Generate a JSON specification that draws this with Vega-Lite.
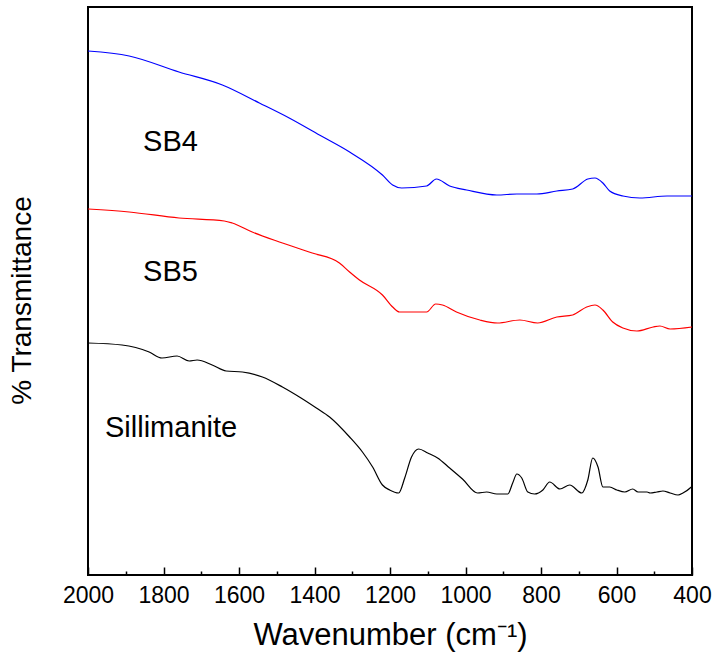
{
  "$schema": "https://vega.github.io/schema/vega-lite/v6.json",
  "width": 604,
  "height": 568,
  "autosize": {"type": "none"},
  "padding": {"left": 88, "top": 7, "right": 20, "bottom": 91},
  "config": {
    "view": {"stroke": "black", "strokeWidth": 2},
    "font": "Liberation Sans"
  },
  "datasets": {
    "spectra": [
      {"sample": "SB4", "wn": 2000, "t": 524},
      {"sample": "SB4", "wn": 1891, "t": 519},
      {"sample": "SB4", "wn": 1759, "t": 503},
      {"sample": "SB4", "wn": 1644, "t": 490},
      {"sample": "SB4", "wn": 1546, "t": 472},
      {"sample": "SB4", "wn": 1467, "t": 457},
      {"sample": "SB4", "wn": 1387, "t": 440},
      {"sample": "SB4", "wn": 1307, "t": 423},
      {"sample": "SB4", "wn": 1220, "t": 400},
      {"sample": "SB4", "wn": 1193, "t": 390},
      {"sample": "SB4", "wn": 1169, "t": 387},
      {"sample": "SB4", "wn": 1103, "t": 389},
      {"sample": "SB4", "wn": 1077, "t": 396},
      {"sample": "SB4", "wn": 1042, "t": 389},
      {"sample": "SB4", "wn": 997, "t": 385},
      {"sample": "SB4", "wn": 917, "t": 380},
      {"sample": "SB4", "wn": 864, "t": 381},
      {"sample": "SB4", "wn": 811, "t": 381},
      {"sample": "SB4", "wn": 758, "t": 384},
      {"sample": "SB4", "wn": 716, "t": 386},
      {"sample": "SB4", "wn": 676, "t": 396},
      {"sample": "SB4", "wn": 657, "t": 397},
      {"sample": "SB4", "wn": 636, "t": 392},
      {"sample": "SB4", "wn": 618, "t": 384},
      {"sample": "SB4", "wn": 583, "t": 379},
      {"sample": "SB4", "wn": 538, "t": 377},
      {"sample": "SB4", "wn": 466, "t": 379},
      {"sample": "SB4", "wn": 400, "t": 379},
      {"sample": "SB5", "wn": 2000, "t": 366},
      {"sample": "SB5", "wn": 1891, "t": 363},
      {"sample": "SB5", "wn": 1759, "t": 357},
      {"sample": "SB5", "wn": 1639, "t": 354},
      {"sample": "SB5", "wn": 1618, "t": 352},
      {"sample": "SB5", "wn": 1565, "t": 343},
      {"sample": "SB5", "wn": 1493, "t": 333},
      {"sample": "SB5", "wn": 1406, "t": 322},
      {"sample": "SB5", "wn": 1334, "t": 312},
      {"sample": "SB5", "wn": 1307, "t": 303},
      {"sample": "SB5", "wn": 1281, "t": 295},
      {"sample": "SB5", "wn": 1220, "t": 280},
      {"sample": "SB5", "wn": 1193, "t": 268},
      {"sample": "SB5", "wn": 1175, "t": 263},
      {"sample": "SB5", "wn": 1103, "t": 263},
      {"sample": "SB5", "wn": 1079, "t": 271},
      {"sample": "SB5", "wn": 1061, "t": 270},
      {"sample": "SB5", "wn": 1024, "t": 263},
      {"sample": "SB5", "wn": 962, "t": 255},
      {"sample": "SB5", "wn": 915, "t": 252},
      {"sample": "SB5", "wn": 856, "t": 255},
      {"sample": "SB5", "wn": 809, "t": 252},
      {"sample": "SB5", "wn": 758, "t": 258},
      {"sample": "SB5", "wn": 716, "t": 260},
      {"sample": "SB5", "wn": 679, "t": 268},
      {"sample": "SB5", "wn": 657, "t": 270},
      {"sample": "SB5", "wn": 636, "t": 265},
      {"sample": "SB5", "wn": 610, "t": 253},
      {"sample": "SB5", "wn": 583, "t": 247},
      {"sample": "SB5", "wn": 546, "t": 244},
      {"sample": "SB5", "wn": 503, "t": 248},
      {"sample": "SB5", "wn": 485, "t": 249},
      {"sample": "SB5", "wn": 458, "t": 246},
      {"sample": "SB5", "wn": 400, "t": 248},
      {"sample": "Sillimanite", "wn": 2000, "t": 232},
      {"sample": "Sillimanite", "wn": 1910, "t": 230},
      {"sample": "Sillimanite", "wn": 1838, "t": 223},
      {"sample": "Sillimanite", "wn": 1804, "t": 217},
      {"sample": "Sillimanite", "wn": 1764, "t": 219},
      {"sample": "Sillimanite", "wn": 1732, "t": 214},
      {"sample": "Sillimanite", "wn": 1711, "t": 215},
      {"sample": "Sillimanite", "wn": 1671, "t": 210},
      {"sample": "Sillimanite", "wn": 1634, "t": 204},
      {"sample": "Sillimanite", "wn": 1591, "t": 203},
      {"sample": "Sillimanite", "wn": 1538, "t": 198},
      {"sample": "Sillimanite", "wn": 1485, "t": 188},
      {"sample": "Sillimanite", "wn": 1440, "t": 178},
      {"sample": "Sillimanite", "wn": 1395, "t": 167},
      {"sample": "Sillimanite", "wn": 1360, "t": 158},
      {"sample": "Sillimanite", "wn": 1307, "t": 138},
      {"sample": "Sillimanite", "wn": 1273, "t": 123},
      {"sample": "Sillimanite", "wn": 1246, "t": 108},
      {"sample": "Sillimanite", "wn": 1220, "t": 90},
      {"sample": "Sillimanite", "wn": 1201, "t": 85},
      {"sample": "Sillimanite", "wn": 1177, "t": 82},
      {"sample": "Sillimanite", "wn": 1161, "t": 97},
      {"sample": "Sillimanite", "wn": 1143, "t": 118},
      {"sample": "Sillimanite", "wn": 1124, "t": 126},
      {"sample": "Sillimanite", "wn": 1100, "t": 122},
      {"sample": "Sillimanite", "wn": 1074, "t": 117},
      {"sample": "Sillimanite", "wn": 1042, "t": 107},
      {"sample": "Sillimanite", "wn": 1008, "t": 96},
      {"sample": "Sillimanite", "wn": 968, "t": 82},
      {"sample": "Sillimanite", "wn": 944, "t": 83},
      {"sample": "Sillimanite", "wn": 917, "t": 81},
      {"sample": "Sillimanite", "wn": 888, "t": 81},
      {"sample": "Sillimanite", "wn": 875, "t": 92},
      {"sample": "Sillimanite", "wn": 864, "t": 101},
      {"sample": "Sillimanite", "wn": 851, "t": 97},
      {"sample": "Sillimanite", "wn": 835, "t": 83},
      {"sample": "Sillimanite", "wn": 817, "t": 81},
      {"sample": "Sillimanite", "wn": 795, "t": 85},
      {"sample": "Sillimanite", "wn": 777, "t": 93},
      {"sample": "Sillimanite", "wn": 750, "t": 86},
      {"sample": "Sillimanite", "wn": 724, "t": 90},
      {"sample": "Sillimanite", "wn": 692, "t": 82},
      {"sample": "Sillimanite", "wn": 676, "t": 95},
      {"sample": "Sillimanite", "wn": 663, "t": 117},
      {"sample": "Sillimanite", "wn": 649, "t": 108},
      {"sample": "Sillimanite", "wn": 636, "t": 88},
      {"sample": "Sillimanite", "wn": 618, "t": 88},
      {"sample": "Sillimanite", "wn": 599, "t": 85},
      {"sample": "Sillimanite", "wn": 578, "t": 83},
      {"sample": "Sillimanite", "wn": 557, "t": 86},
      {"sample": "Sillimanite", "wn": 543, "t": 83},
      {"sample": "Sillimanite", "wn": 519, "t": 83},
      {"sample": "Sillimanite", "wn": 511, "t": 82},
      {"sample": "Sillimanite", "wn": 493, "t": 83},
      {"sample": "Sillimanite", "wn": 477, "t": 84},
      {"sample": "Sillimanite", "wn": 458, "t": 82},
      {"sample": "Sillimanite", "wn": 437, "t": 80},
      {"sample": "Sillimanite", "wn": 424, "t": 82},
      {"sample": "Sillimanite", "wn": 405, "t": 87},
      {"sample": "Sillimanite", "wn": 400, "t": 89}
    ],
    "labels": [
      {"label": "SB4", "wn": 1854, "t": 433},
      {"label": "SB5", "wn": 1854, "t": 303},
      {"label": "Sillimanite", "wn": 1955, "t": 147}
    ]
  },
  "layer": [
    {
      "data": {"name": "spectra"},
      "mark": {"type": "line", "interpolate": "monotone", "strokeWidth": 1.2},
      "encoding": {
        "x": {
          "field": "wn", "type": "quantitative",
          "scale": {"domain": [2000, 400], "nice": false, "zero": false},
          "axis": {
            "orient": "bottom",
            "values": [2000, 1800, 1600, 1400, 1200, 1000, 800, 600, 400],
            "format": "d",
            "tickSize": -8, "tickWidth": 1.5, "tickColor": "black",
            "domain": false, "grid": false,
            "labelFontSize": 23, "labelColor": "black", "labelPadding": 17,
            "labelFlush": false, "labelOverlap": false,
            "title": "Wavenumber (cm⁻¹)", "titleFontSize": 31,
            "titleFontWeight": "normal", "titleColor": "black", "titlePadding": 13
          }
        },
        "y": {
          "field": "t", "type": "quantitative",
          "scale": {"domain": [0, 568], "nice": false, "zero": false},
          "axis": {
            "labels": false, "ticks": false, "domain": false, "grid": false,
            "title": "% Transmittance", "titleFontSize": 28, "titleY": 293,
            "titleFontWeight": "normal", "titleColor": "black", "titlePadding": 52
          }
        },
        "color": {
          "field": "sample", "type": "nominal",
          "scale": {"domain": ["SB4", "SB5", "Sillimanite"], "range": ["#0000ff", "#ff0000", "#000000"]},
          "legend": null
        }
      }
    },
    {
      "data": {"name": "labels"},
      "mark": {"type": "text", "align": "left", "baseline": "middle", "fontSize": 29, "color": "black"},
      "encoding": {
        "x": {"field": "wn", "type": "quantitative", "axis": null},
        "y": {"field": "t", "type": "quantitative"},
        "text": {"field": "label"}
      }
    },
    {
      "data": {"name": "labels"},
      "mark": {"type": "point", "opacity": 0},
      "encoding": {
        "x": {
          "field": "wn", "type": "quantitative",
          "axis": {
            "orient": "bottom",
            "values": [1900, 1700, 1500, 1300, 1100, 900, 700, 500],
            "tickSize": -4, "tickWidth": 1.5, "tickColor": "black",
            "labels": false, "domain": false, "grid": false, "title": null
          }
        },
        "y": {"field": "t", "type": "quantitative"}
      }
    }
  ],
  "resolve": {"axis": {"x": "independent"}}
}
